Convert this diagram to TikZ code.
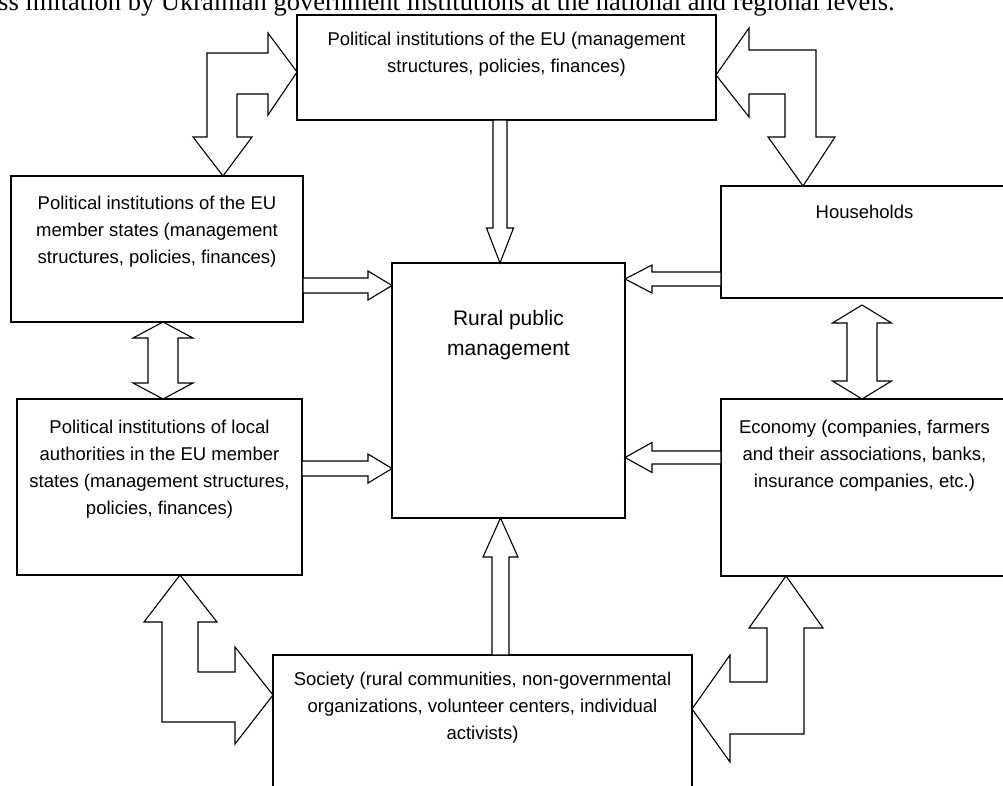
\documentclass[tikz,border=0pt]{standalone}
\usepackage{fontspec}
\setmainfont{Liberation Sans}
\newfontfamily\introfont{Liberation Serif}
\usetikzlibrary{calc}

% straight block arrow: tail, tip, half shaft, half head, head length
\newcommand{\blockarrow}[5]{%
	\coordinate (ba-t) at #1;
	\coordinate (ba-p) at #2;
	\coordinate (ba-b) at ($(ba-p)!#5!(ba-t)$);
	\draw[blk] ($(ba-t)!#3!90:(ba-p)$) -- ($(ba-b)!#3!90:(ba-p)$) -- ($(ba-b)!#4!90:(ba-p)$) -- (ba-p)
		-- ($(ba-b)!#4!-90:(ba-p)$) -- ($(ba-b)!#3!-90:(ba-p)$) -- ($(ba-t)!#3!-90:(ba-p)$) -- cycle;
}
% straight double block arrow: tip, tip, half shaft, half head, head length
\newcommand{\dblarrow}[5]{%
	\coordinate (ba-t) at #1;
	\coordinate (ba-p) at #2;
	\coordinate (ba-a) at ($(ba-t)!#5!(ba-p)$);
	\coordinate (ba-b) at ($(ba-p)!#5!(ba-t)$);
	\draw[blk] (ba-t) -- ($(ba-a)!#4!90:(ba-p)$) -- ($(ba-a)!#3!90:(ba-p)$) -- ($(ba-b)!#3!90:(ba-p)$)
		-- ($(ba-b)!#4!90:(ba-p)$) -- (ba-p) -- ($(ba-b)!#4!-90:(ba-p)$) -- ($(ba-b)!#3!-90:(ba-p)$)
		-- ($(ba-a)!#3!-90:(ba-p)$) -- ($(ba-a)!#4!-90:(ba-p)$) -- cycle;
}

\begin{document}
\begin{tikzpicture}[x=1pt, y=-1pt,
		inst/.style={draw, line width=1.5pt, inner sep=0pt, outer sep=0pt},
		boxtext/.style={anchor=north, align=center, inner sep=0pt, font=\fontsize{18.5}{27}\selectfont},
		blk/.style={draw, line width=1.1pt, fill=white, line join=miter}]
		
		\useasboundingbox (0,0) rectangle (1003,785);
		\clip (0,0) rectangle (1003,785);
		
		\node[anchor=base west, inner sep=0pt, font=\introfont\fontsize{26.5}{30}\selectfont] (intro) at (-2,10.5) {ss imitation by Ukrainian government institutions at the national and regional levels.};
		
		%boxes
		\node[inst, minimum width=419pt, minimum height=105pt,
			label={[boxtext, yshift=-16.5pt]north:Political institutions of the EU (management\\structures, policies, finances)}] (eu) at (506.5,67.5) {};
		\node[inst, minimum width=292pt, minimum height=146pt,
			label={[boxtext, yshift=-19.5pt]north:Political institutions of the EU\\member states (management\\structures, policies, finances)}] (ms) at (157,249) {};
		\node[inst, minimum width=285pt, minimum height=176pt,
			label={[boxtext, yshift=-20.5pt]north:Political institutions of local\\authorities in the EU member\\states (management structures,\\policies, finances)}] (la) at (159.5,487) {};
		\node[inst, minimum width=233pt, minimum height=255pt,
			label={[boxtext, font=\fontsize{21}{30}\selectfont, yshift=-47.5pt]north:Rural public\\management}] (rpm) at (508.5,390.5) {};
		\node[inst, minimum width=287pt, minimum height=112pt,
			label={[boxtext, yshift=-18.5pt]north:Households}] (hh) at (864.5,242) {};
		\node[inst, minimum width=287pt, minimum height=177pt,
			label={[boxtext, yshift=-20.5pt]north:Economy (companies, farmers\\and their associations, banks,\\insurance companies, etc.)}] (ec) at (864.5,487.5) {};
		\node[inst, minimum width=419pt, minimum height=145pt,
			label={[boxtext, yshift=-16.5pt]north:Society (rural communities, non-governmental\\organizations, volunteer centers, individual\\activists)}] (so) at (482.5,727.5) {};
		
		%into rural public management
		\blockarrow{(eu.south -| 500,0)}{(rpm.north -| 500,0)}{7pt}{13.5pt}{35pt}
		\blockarrow{(ms.east |- 0,285.5)}{(rpm.west |- 0,285.5)}{7.5pt}{14.5pt}{24pt}
		\blockarrow{(la.east |- 0,468.5)}{(rpm.west |- 0,468.5)}{7.5pt}{14.5pt}{24pt}
		\blockarrow{(hh.west |- 0,279)}{(rpm.east |- 0,279)}{7pt}{14pt}{27pt}
		\blockarrow{(ec.west |- 0,457.5)}{(rpm.east |- 0,457.5)}{6.5pt}{15pt}{27pt}
		\blockarrow{(so.north -| 500.5,0)}{(rpm.south -| 500.5,0)}{8.5pt}{17.5pt}{39pt}
		
		%two-way
		\dblarrow{(ms.south -| 163,0)}{(la.north -| 163,0)}{15pt}{30pt}{16pt}
		\dblarrow{($(hh.south -| 862,0)+(0,7)$)}{(ec.north -| 862,0)}{15pt}{29.5pt}{18pt}
		
		%bent arrows
		\draw[blk] (eu.west |- 0,72) -- (268,115) -- (268,94) -- (237,94) -- (237,137) -- (252,137)
			-- (ms.north -| 223,0) -- (193,137) -- (207,137) -- (207,53) -- (268,53) -- (268,33) -- cycle;
		\draw[blk] (eu.east |- 0,75) -- (749,28) -- (749,50) -- (816,50) -- (816,137) -- (835,137)
			-- (hh.north -| 803,0) -- (768,137) -- (785,137) -- (785,94) -- (749,94) -- (749,117) -- cycle;
		\draw[blk] (la.south -| 180,0) -- (217,622) -- (198,622) -- (198,672) -- (235,672) -- (235,647)
			-- (so.west |- 0,695) -- (235,744) -- (235,722) -- (162,722) -- (162,622) -- (144,622) -- cycle;
		\draw[blk] (ec.south -| 786,0) -- (823,628) -- (804,628) -- (804,734) -- (730,734) -- (730,762)
			-- (so.east |- 0,709) -- (730,655) -- (730,682) -- (767,682) -- (767,628) -- (749,628) -- cycle;
	\end{tikzpicture}
\end{document}
